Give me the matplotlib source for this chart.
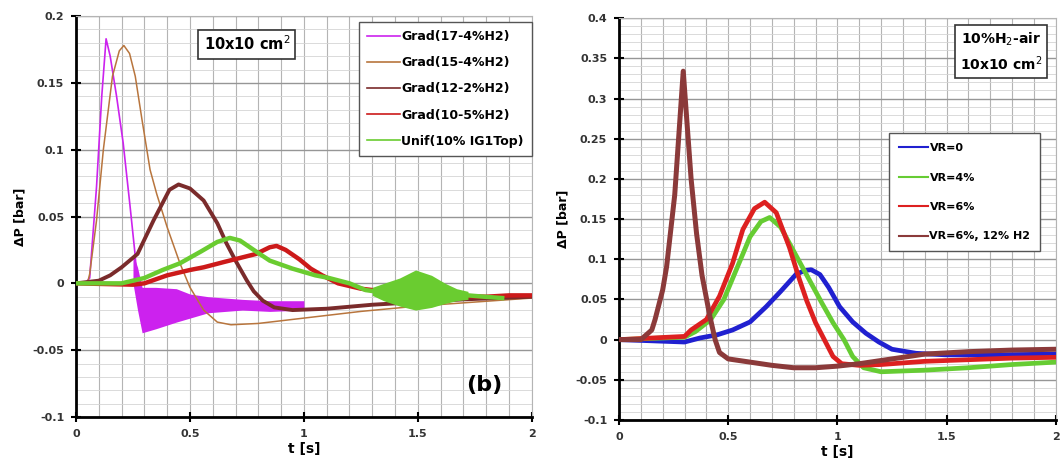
import numpy as np
import matplotlib
matplotlib.use("Agg")
import matplotlib.pyplot as plt
from matplotlib.ticker import MultipleLocator, FuncFormatter

# ---- left panel (b): 10x10 cm2, gradient mixtures ----
t_g17 = [0, 0.04, 0.06, 0.09, 0.113, 0.132, 0.15, 0.178, 0.207, 0.237, 0.259, 0.27]
p_g17 = [0, 0.0, 0.004, 0.072, 0.14, 0.183, 0.17, 0.14, 0.105, 0.058, 0.022, -0.003]
# noisy tail of the 17-4% run (upper / lower envelope)
t_g17n = [0.25, 0.27, 0.29, 0.35, 0.44, 0.5, 0.58, 0.73, 0.85, 1.0]
lo_g17n = [0.0, -0.02, -0.037, -0.034, -0.029, -0.026, -0.022, -0.02, -0.021, -0.02]
hi_g17n = [0.022, 0.012, -0.003, -0.003, -0.004, -0.008, -0.01, -0.012, -0.013, -0.013]

t_g15 = [0, 0.05, 0.06, 0.09, 0.12, 0.16, 0.19, 0.21, 0.235, 0.26, 0.29, 0.325, 0.354,
         0.40, 0.456, 0.5, 0.56, 0.62, 0.68, 0.8, 1.0, 1.25, 1.5, 1.75, 2.0]
p_g15 = [0, 0.0, 0.007, 0.047, 0.10, 0.155, 0.174, 0.178, 0.172, 0.155, 0.122, 0.085,
         0.067, 0.042, 0.015, -0.003, -0.02, -0.029, -0.031, -0.03, -0.026, -0.021,
         -0.017, -0.014, -0.011]

t_g12 = [0, 0.1, 0.15, 0.2, 0.27, 0.34, 0.41, 0.45, 0.5, 0.56, 0.62, 0.66, 0.7, 0.75,
         0.78, 0.82, 0.87, 0.95, 1.1, 1.3, 1.5, 1.7, 1.85, 2.0]
p_g12 = [0, 0.002, 0.006, 0.012, 0.022, 0.047, 0.07, 0.074, 0.071, 0.062, 0.045, 0.03,
         0.017, 0.002, -0.006, -0.013, -0.018, -0.02, -0.019, -0.016, -0.014, -0.012, -0.011, -0.01]

t_g10 = [0, 0.25, 0.3, 0.4, 0.5, 0.56, 0.65, 0.72, 0.79, 0.85, 0.88, 0.92, 0.98, 1.03,
         1.08, 1.15, 1.25, 1.4, 1.6, 1.8, 1.9, 2.0]
p_g10 = [0, -0.001, 0.0, 0.006, 0.01, 0.012, 0.016, 0.019, 0.022, 0.027, 0.028, 0.025,
         0.018, 0.011, 0.006, 0.0, -0.004, -0.007, -0.009, -0.01, -0.009, -0.009]

t_unif = [0, 0.2, 0.3, 0.38, 0.456, 0.55, 0.62, 0.675, 0.72, 0.78, 0.85, 0.95, 1.05,
          1.11, 1.2, 1.27, 1.35, 1.45, 1.5, 1.55, 1.65, 1.79, 1.87]
p_unif = [0, 0.0, 0.004, 0.01, 0.015, 0.024, 0.031, 0.034, 0.032, 0.025, 0.017, 0.011,
          0.006, 0.004, 0.0, -0.005, -0.007, -0.006, -0.005, -0.006, -0.008, -0.01, -0.011]
t_unifn = [1.3, 1.35, 1.42, 1.49, 1.56, 1.62, 1.67, 1.72]
hi_unifn = [-0.003, 0.0, 0.004, 0.01, 0.006, 0.0, -0.004, -0.006]
lo_unifn = [-0.009, -0.013, -0.017, -0.02, -0.018, -0.015, -0.013, -0.012]

# ---- right panel: 10% H2-air, vent ratio ----
t_vr0 = [0, 0.3, 0.37, 0.45, 0.52, 0.6, 0.674, 0.74, 0.81, 0.85, 0.88, 0.92, 0.96,
         1.01, 1.07, 1.13, 1.19, 1.25, 1.36, 1.5, 1.7, 2.0]
p_vr0 = [0, -0.003, 0.002, 0.006, 0.012, 0.022, 0.041, 0.06, 0.081, 0.086, 0.087, 0.081,
         0.065, 0.041, 0.022, 0.008, -0.003, -0.012, -0.017, -0.019, -0.019, -0.018]

t_vr4 = [0, 0.3, 0.35, 0.42, 0.48, 0.537, 0.6, 0.65, 0.69, 0.74, 0.8, 0.87, 0.93, 0.98,
         1.03, 1.07, 1.12, 1.2, 1.4, 1.6, 1.8, 2.0]
p_vr4 = [0, 0.003, 0.01, 0.025, 0.05, 0.087, 0.128, 0.147, 0.152, 0.14, 0.11, 0.075,
         0.045, 0.021, 0.0, -0.021, -0.035, -0.04, -0.038, -0.035, -0.031, -0.028]

t_vr6 = [0, 0.3, 0.33, 0.4, 0.46, 0.52, 0.567, 0.62, 0.667, 0.72, 0.78, 0.826, 0.86,
         0.9, 0.94, 0.98, 1.02, 1.1, 1.2, 1.4, 1.6, 1.8, 2.0]
p_vr6 = [0, 0.004, 0.012, 0.025, 0.054, 0.095, 0.137, 0.163, 0.171, 0.158, 0.115, 0.075,
         0.048, 0.021, 0.0, -0.021, -0.03, -0.032, -0.031, -0.027, -0.025, -0.023, -0.022]

t_vr6h = [0, 0.1, 0.15, 0.165, 0.2, 0.218, 0.255, 0.294, 0.33, 0.355, 0.38, 0.416,
          0.44, 0.46, 0.5, 0.6, 0.7, 0.8, 0.9, 1.0, 1.1, 1.2, 1.4, 1.6, 1.8, 2.0]
p_vr6h = [0, 0.0, 0.012, 0.025, 0.062, 0.091, 0.18, 0.334, 0.2, 0.132, 0.08, 0.029,
          0.0, -0.016, -0.024, -0.028, -0.032, -0.035, -0.035, -0.033, -0.03, -0.026,
          -0.018, -0.015, -0.013, -0.012]


def fmt(v, pos):
    return "%g" % round(v, 3)


def style_axes(ax, ymin, ymax):
    ax.set_xlim(0, 2)
    ax.set_ylim(ymin, ymax)
    ax.xaxis.set_major_locator(MultipleLocator(0.5))
    ax.xaxis.set_minor_locator(MultipleLocator(0.1))
    ax.yaxis.set_major_locator(MultipleLocator(0.05))
    ax.yaxis.set_minor_locator(MultipleLocator(0.01))
    ax.xaxis.set_major_formatter(FuncFormatter(fmt))
    ax.yaxis.set_major_formatter(FuncFormatter(fmt))
    ax.grid(axis="x", which="both", color="#b4b4b4", lw=0.8)
    ax.grid(axis="y", which="major", color="#969696", lw=1.0)
    ax.grid(axis="y", which="minor", color="#d4d4d4", lw=0.6)
    ax.set_axisbelow(True)
    for s in ["top", "right"]:
        ax.spines[s].set_color("#b4b4b4")
        ax.spines[s].set_linewidth(0.8)
    for s in ["left", "bottom"]:
        ax.spines[s].set_color("black")
        ax.spines[s].set_linewidth(2)
    ax.tick_params(which="major", direction="inout", length=7, width=1.5,
                   labelsize=8, labelcolor="#333333", pad=5)
    ax.tick_params(which="minor", length=0)
    for lab in ax.get_xticklabels() + ax.get_yticklabels():
        lab.set_fontweight("bold")
    ax.set_xlabel("t [s]", fontsize=10, fontweight="bold", labelpad=2)
    ax.set_ylabel("ΔP [bar]", fontsize=9, fontweight="bold", labelpad=4)


fig = plt.figure(figsize=(10.6, 4.7), dpi=100)
ax1 = fig.add_axes([0.0717, 0.1128, 0.430, 0.853])
ax2 = fig.add_axes([0.584, 0.1064, 0.412, 0.855])

# left panel
style_axes(ax1, -0.1, 0.2)
ax1.fill_between(t_g17n, lo_g17n, hi_g17n, color="#cc22ee", lw=0, zorder=2)
ax1.plot(t_g17, p_g17, color="#cc22ee", lw=1.2, label="Grad(17-4%H2)", zorder=3)
ax1.plot(t_g15, p_g15, color="#b8753d", lw=1.1, label="Grad(15-4%H2)", zorder=3)
ax1.plot(t_g12, p_g12, color="#7a2b2b", lw=2.8, label="Grad(12-2%H2)", zorder=3)
ax1.plot(t_g10, p_g10, color="#cc1a1a", lw=3.2, label="Grad(10-5%H2)", zorder=3)
ax1.fill_between(t_unifn, lo_unifn, hi_unifn, color="#6acc30", lw=0, zorder=4)
ax1.plot(t_unif, p_unif, color="#6acc30", lw=3.2, label="Unif(10% IG1Top)", zorder=4)
leg1 = ax1.legend(loc="upper right", bbox_to_anchor=(1.0, 0.985), borderaxespad=0,
                  prop={"weight": "bold", "size": 9}, frameon=True, fancybox=False,
                  edgecolor="#555555", handlelength=2.6, handletextpad=0.1,
                  labelspacing=1.05, borderpad=0.65, framealpha=1)
leg1.get_frame().set_linewidth(1.0)
for ln in leg1.get_lines():
    ln.set_linewidth(1.2)
ax1.text(0.75, 0.179, "10x10 cm$^2$", fontsize=10.5, fontweight="bold",
         ha="center", va="center",
         bbox=dict(boxstyle="square,pad=0.35", fc="white", ec="#333333", lw=1.2))
ax1.text(1.79, -0.076, "(b)", fontsize=16, fontweight="bold", ha="center", va="center")

# right panel
style_axes(ax2, -0.1, 0.4)
ax2.plot(t_vr0, p_vr0, color="#2020d0", lw=3.4, label="VR=0", zorder=3)
ax2.plot(t_vr4, p_vr4, color="#66cc33", lw=3.4, label="VR=4%", zorder=3)
ax2.plot(t_vr6, p_vr6, color="#dd2020", lw=3.4, label="VR=6%", zorder=3)
ax2.plot(t_vr6h, p_vr6h, color="#8b3a3a", lw=3.6, label="VR=6%, 12% H2", zorder=4)
leg2 = ax2.legend(loc="upper right", bbox_to_anchor=(0.965, 0.714), borderaxespad=0,
                  prop={"weight": "bold", "size": 8}, frameon=True, fancybox=False,
                  edgecolor="#555555", handlelength=2.6, handletextpad=0.1,
                  labelspacing=1.75, borderpad=0.9, framealpha=1)
leg2.get_frame().set_linewidth(1.0)
for ln in leg2.get_lines():
    ln.set_linewidth(1.5)
ax2.text(1.75, 0.358, "10%H$_2$-air\n10x10 cm$^2$", fontsize=10, fontweight="bold",
         ha="center", va="center", linespacing=1.4,
         bbox=dict(boxstyle="square,pad=0.35", fc="white", ec="#333333", lw=1.2))

fig.savefig("out.png", dpi=100)
